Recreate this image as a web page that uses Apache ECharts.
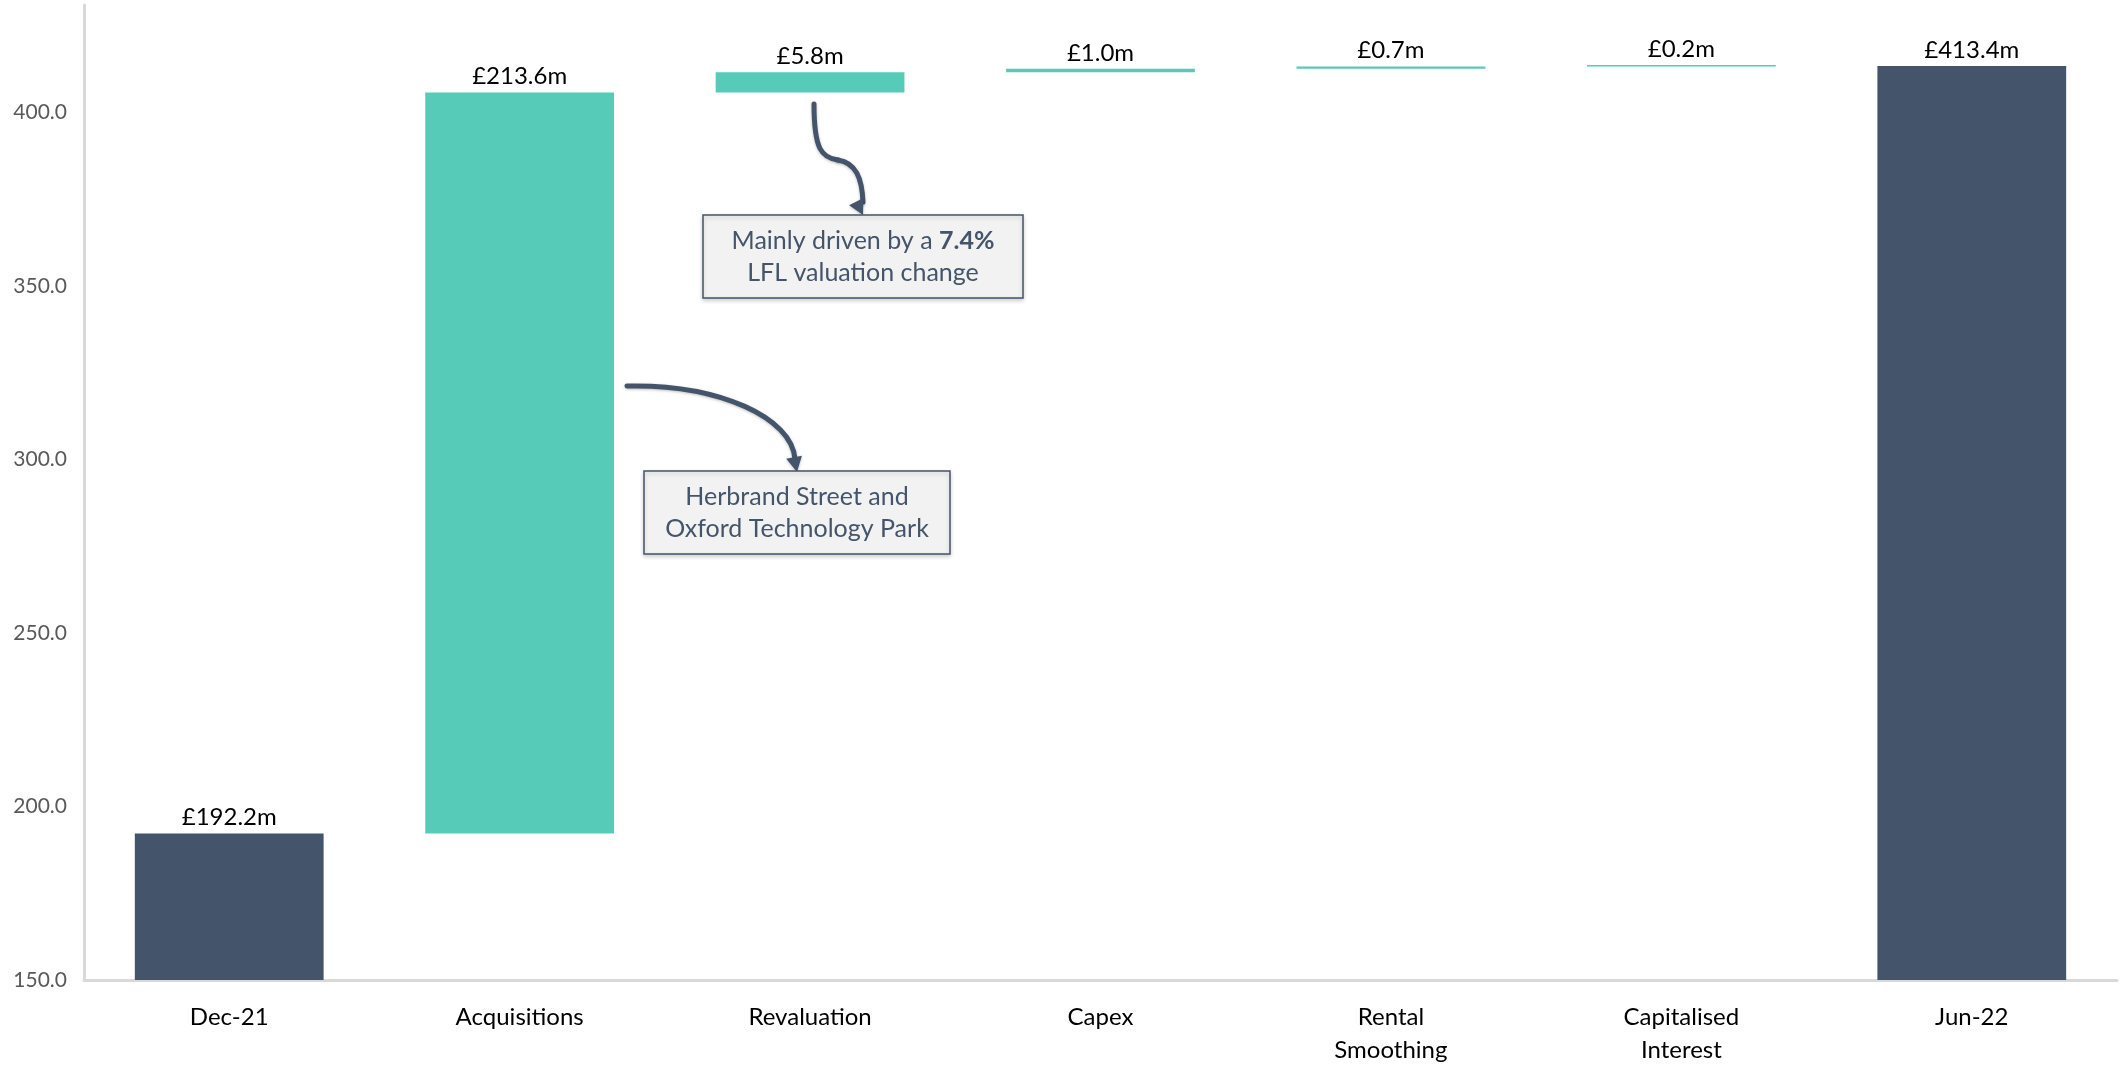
<!DOCTYPE html>
<html>
<head>
<meta charset="utf-8">
<title>Portfolio valuation bridge</title>
<script src="https://cdn.jsdelivr.net/npm/echarts@6/dist/echarts.min.js"></script>
<style>
  html, body { margin: 0; padding: 0; background: #ffffff; }
  #chart { width: 2127px; height: 1067px; }
</style>
</head>
<body>
<div id="chart"></div>
<script>
// Valuation bridge, Dec-21 to Jun-22 (£m)
const categories = ['Dec-21', 'Acquisitions', 'Revaluation', 'Capex', 'Rental\nSmoothing', 'Capitalised\nInterest', 'Jun-22'];
const stepValues = [192.2, 213.6, 5.8, 1.0, 0.7, 0.2, 413.4];
const isTotal = [true, false, false, false, false, false, true];
const yTicks = [150, 200, 250, 300, 350, 400];

// Running totals give the floating base of each movement bar
const baseValues = [];
let running = 0;
stepValues.forEach((v, i) => {
  if (isTotal[i]) {
    baseValues.push(0);
    running = v;
  } else {
    baseValues.push(running);
    running += v;
  }
});

const TOTAL_COLOR = '#44546A';
const MOVE_COLOR = '#55CBB8';
const INK = '#44546A';
const FONT = 'Lato';

const chart = echarts.init(document.getElementById('chart'), null, { renderer: 'canvas' });

function arrowHead(tip, dir, len, half) {
  const n = Math.hypot(dir[0], dir[1]);
  const ux = dir[0] / n, uy = dir[1] / n;
  const bx = tip[0] - ux * len, by = tip[1] - uy * len;
  return [tip, [bx - uy * half, by + ux * half], [bx + uy * half, by - ux * half]];
}

const arrowStyle = { stroke: INK, lineWidth: 5, fill: null, lineCap: 'round',
  shadowBlur: 3, shadowColor: 'rgba(0,0,0,0.25)', shadowOffsetY: 1 };
const headStyle = { fill: INK, shadowBlur: 3, shadowColor: 'rgba(0,0,0,0.25)', shadowOffsetY: 1 };
const boxStyle = { fill: '#F2F2F2', stroke: INK, lineWidth: 1.5,
  shadowBlur: 4, shadowColor: 'rgba(0,0,0,0.18)', shadowOffsetY: 2 };
const noteText = { fill: INK, fontFamily: FONT, fontSize: 25, lineHeight: 32, align: 'center', verticalAlign: 'middle' };

const option = {
  backgroundColor: '#ffffff',
  animation: false,
  textStyle: { fontFamily: FONT },
  grid: { left: 84, right: 10, top: 5, bottom: 82, containLabel: false },
  xAxis: {
    type: 'category',
    data: categories,
    axisLine: { lineStyle: { color: '#D9D9D9', width: 3 } },
    axisTick: { show: false },
    axisLabel: { color: '#000000', fontFamily: FONT, fontSize: 24, lineHeight: 33, margin: 21, interval: 0 }
  },
  yAxis: {
    type: 'value',
    min: yTicks[0],
    max: 431,
    interval: 50,
    splitLine: { show: false },
    axisTick: { show: false },
    axisLine: { show: true, lineStyle: { color: '#D9D9D9', width: 3 } },
    axisLabel: {
      color: '#595959', fontFamily: FONT, fontSize: 21, margin: 17,
      showMaxLabel: false,
      formatter: v => yTicks.includes(v) ? v.toFixed(1) : ''
    }
  },
  series: [
    {
      name: 'base',
      type: 'bar',
      stack: 'bridge',
      barWidth: '65%',
      silent: true,
      itemStyle: { color: 'transparent' },
      data: baseValues
    },
    {
      name: 'value',
      type: 'bar',
      stack: 'bridge',
      barWidth: '65%',
      barMinHeight: 1.5,
      data: stepValues.map((v, i) => ({
        value: v,
        itemStyle: { color: isTotal[i] ? TOTAL_COLOR : MOVE_COLOR }
      })),
      label: {
        show: true,
        position: 'top',
        distance: 4,
        color: '#000000',
        fontFamily: FONT,
        fontSize: 24,
        formatter: p => '£' + p.value.toFixed(1) + 'm'
      }
    }
  ]
};
chart.setOption(option);

// Call-out notes with curved arrows
const a1 = { p1: [814, 104], c1: [814, 150], c2: [822, 158], p2: [838, 160] };
const a1b = { p1: [838, 160], c1: [856, 163], c2: [862, 178], p2: [863, 202] };
const a2 = { p1: [627, 386], c1: [720, 384], c2: [792, 418], p2: [795, 459] };

chart.setOption({
  graphic: [
    { type: 'bezierCurve', z: 10,
      shape: { x1: a1.p1[0], y1: a1.p1[1], cpx1: a1.c1[0], cpy1: a1.c1[1], cpx2: a1.c2[0], cpy2: a1.c2[1], x2: a1.p2[0], y2: a1.p2[1] },
      style: arrowStyle },
    { type: 'bezierCurve', z: 10,
      shape: { x1: a1b.p1[0], y1: a1b.p1[1], cpx1: a1b.c1[0], cpy1: a1b.c1[1], cpx2: a1b.c2[0], cpy2: a1b.c2[1], x2: a1b.p2[0], y2: a1b.p2[1] },
      style: arrowStyle },
    { type: 'polygon', z: 10, shape: { points: arrowHead([863, 215], [0.5, 1], 15, 8) }, style: headStyle },
    { type: 'rect', z: 10, shape: { x: 703, y: 215, width: 320, height: 83 }, style: boxStyle },
    { type: 'text', z: 11, x: 863, y: 257,
      style: Object.assign({}, noteText, {
        text: 'Mainly driven by a {b|7.4%}\nLFL valuation change',
        rich: { b: { fontWeight: 'bold', fill: INK, fontFamily: FONT, fontSize: 25, lineHeight: 32 } }
      }) },

    { type: 'bezierCurve', z: 10,
      shape: { x1: a2.p1[0], y1: a2.p1[1], cpx1: a2.c1[0], cpy1: a2.c1[1], cpx2: a2.c2[0], cpy2: a2.c2[1], x2: a2.p2[0], y2: a2.p2[1] },
      style: arrowStyle },
    { type: 'polygon', z: 10, shape: { points: arrowHead([797, 472], [0.2, 1], 15, 8) }, style: headStyle },
    { type: 'rect', z: 10, shape: { x: 644, y: 471, width: 306, height: 83 }, style: boxStyle },
    { type: 'text', z: 11, x: 797, y: 513,
      style: Object.assign({}, noteText, { text: 'Herbrand Street and\nOxford Technology Park' }) }
  ]
});
</script>
</body>
</html>
